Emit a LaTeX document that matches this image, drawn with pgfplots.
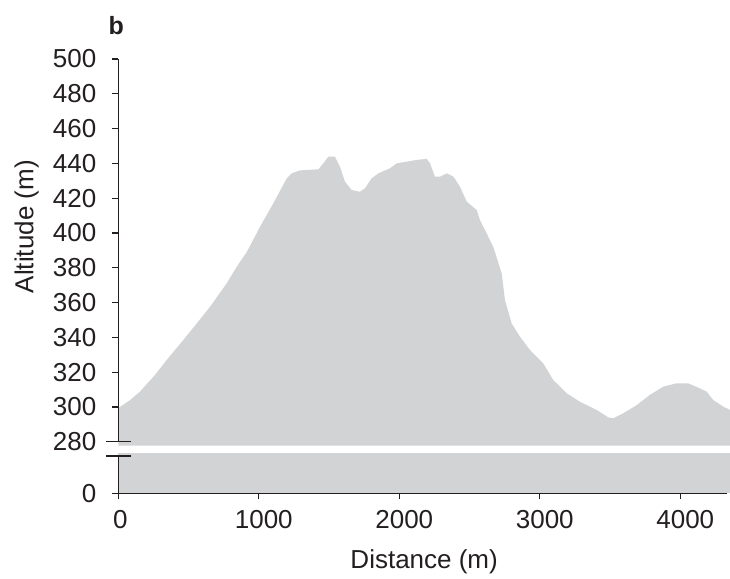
\documentclass[border=0pt]{standalone}
\usepackage{fontspec}
\setmainfont{Liberation Sans}
\usepackage{pgfplots}
\pgfplotsset{compat=1.18}

\definecolor{fillgray}{RGB}{209,211,212}
\definecolor{ink}{RGB}{35,31,32}

\tikzset{axisline/.style={line width=1.2pt, color=ink}}

\pgfplotsset{
  profile/.style={
    scale only axis,
    width=611.7pt,
    xmin=0, xmax=4354,
    clip=false,
    axis on top,
    axis line style={draw=none},
    tick pos=left,
    tick align=outside,
    tick style={line width=1.2pt, color=ink},
    major tick length=6pt,
    /pgf/number format/assume math mode=true,
    /pgf/number format/1000 sep={},
    scaled ticks=false,
    tick label style={font=\fontsize{26}{31}\selectfont, color=ink},
    label style={font=\fontsize{26}{31}\selectfont, color=ink},
    yticklabel style={xshift=-12.5pt},
    xticklabel style={xshift=5pt, yshift=-8pt},
  },
}

\begin{document}
\begin{tikzpicture}
\path[use as bounding box] (0,0) rectangle (730pt,-578pt);

% upper part: 280 to 500 m
\begin{axis}[
  profile,
  at={(118.3pt,-441.8pt)}, anchor=south west,
  height=382.8pt,
  ymin=280, ymax=500,
  xtick=\empty,
  ytick={280,300,...,500},
  ylabel={Altitude (m)},
  ylabel style={at={(axis description cs:-0.139,0.562)}, anchor=base},
]
\addplot[fill=fillgray, draw=none] coordinates {
(0,277.8) (0,299.4) (84,304) (154,308.8) (261,318.4) (344,327) (463,338.5)
(558,348) (653,357.6) (771,371) (843,380.6) (914,389) (1009,403.6)
(1103,417) (1199,431.4) (1234,434.3) (1293,436) (1424,436.6) (1459,440)
(1495,443.9) (1542,443.9) (1578,438) (1613,429.5) (1661,424.7)
(1720,423.7) (1756,425.7) (1803,431.4) (1851,434.3) (1934,437.2)
(1981,440) (2053,441) (2124,442) (2195,442.6) (2219,440) (2254,432.4)
(2290,432.4) (2337,434.3) (2385,432.4) (2432,426.6) (2480,418)
(2551,413.2) (2574,407.5) (2598,403.6) (2669,392) (2729,376.8)
(2752,361.5) (2800,348) (2859,340.4) (2930,332.8) (3025,325)
(3096,315.5) (3191,307.9) (3286,303) (3405,298.3) (3488,294)
(3523,293.5) (3594,296.4) (3689,301) (3784,307) (3879,311.7)
(3974,313.6) (4057,313.6) (4140,310.7) (4188,308.8) (4235,304)
(4306,300.2) (4354,298.3) (4354,277.8)
};
% left axis line and break mark
\draw[axisline] (axis cs:0,280) -- (axis cs:0,500);
\draw[axisline] ([xshift=-12.3pt]axis cs:0,280) -- ([xshift=12.4pt]axis cs:0,280);
\end{axis}

% lower part: 0 m
\begin{axis}[
  profile,
  at={(118.3pt,-493.3pt)}, anchor=south west,
  height=37.3pt,
  ymin=0, ymax=1,
  ytick={0},
  xtick={0,1000,2000,3000,4000},
  xticklabels={\kern-6pt 0,1000,2000,3000,4000},
  xlabel={Distance (m)},
  xlabel style={at={(axis description cs:0.5,-2.011)}, anchor=base},
]
\addplot[fill=fillgray, draw=none] coordinates {
(0,0) (0,1.072) (4354,1.072) (4354,0)
};
% axis lines and break mark
\draw[axisline] (axis cs:0,1) -- (axis cs:0,0) -- ([xshift=-3pt]axis cs:4354,0);
\draw[axisline] ([xshift=-12.3pt]axis cs:0,1) -- ([xshift=12.4pt]axis cs:0,1);
\end{axis}

\node[anchor=base west, inner sep=0pt, color=ink, font=\fontsize{25}{30}\selectfont\bfseries] at (108.5pt,-35pt) {b};
\end{tikzpicture}
\end{document}
